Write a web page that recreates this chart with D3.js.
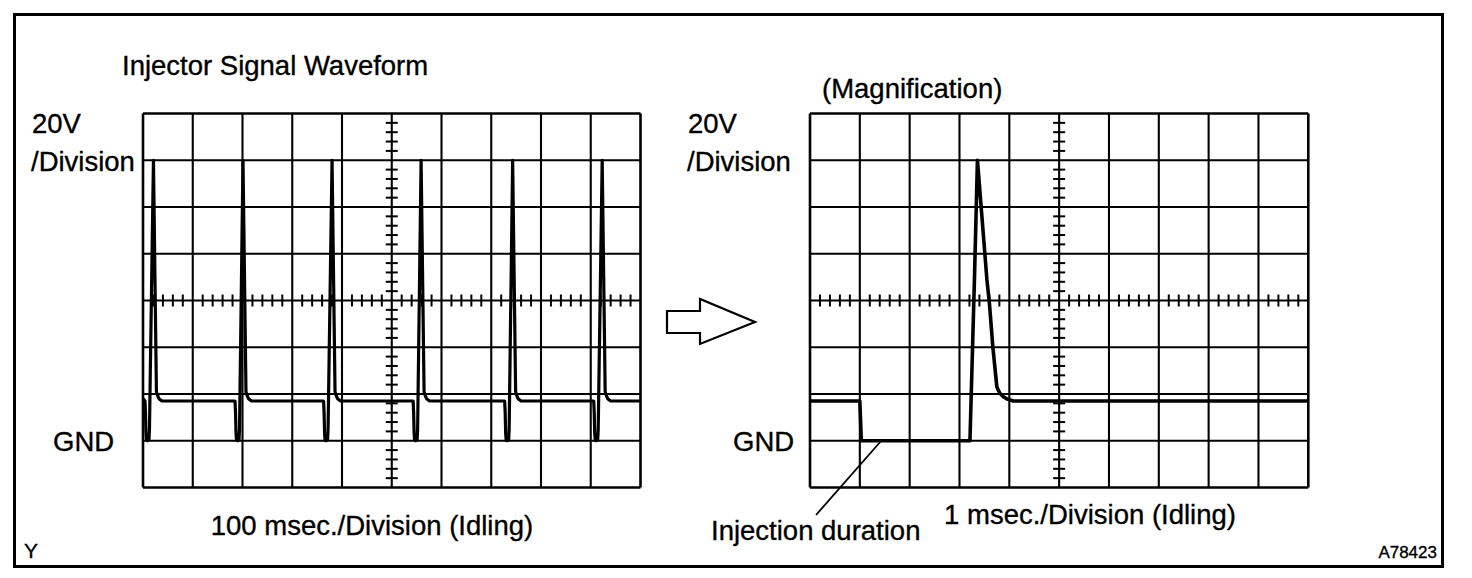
<!DOCTYPE html>
<html>
<head>
<meta charset="utf-8">
<script src="https://cdn.jsdelivr.net/npm/d3@7"></script>
<style>
  body { margin: 0; background: #fff; }
  svg { display: block; }
  text { font-family: "Liberation Sans", Arial, sans-serif; fill: #000; stroke: #000; stroke-width: 0.35; }
</style>
</head>
<body>
<div class="chart"></div>
<script>
// Data: [time, volts].
// Left: 100 msec per division, right: 1 msec per division, 20 V per division.
let leftTrace = [
    [0, 18], [2, 17.5],
    [4, 17], [5, 12], [6, 3], [7, 0.3], [9, 0], [12, 0.5], [13, 5], [21, 120], [27, 21], [29, 19.5], [32, 18], [38, 17],
    [185, 17], [186, 12], [187, 3], [188, 0.3], [190, 0], [193, 0.5], [194, 5], [201, 120], [207, 21], [209, 19.5], [212, 18], [218, 17],
    [363, 17], [364, 12], [365, 3], [366, 0.3], [368, 0], [371, 0.5], [372, 5], [380, 120], [386, 21], [388, 19.5], [391, 18], [397, 17],
    [543, 17], [544, 12], [545, 3], [546, 0.3], [548, 0], [551, 0.5], [552, 5], [559, 120], [565, 21], [567, 19.5], [570, 18], [576, 17],
    [727, 17], [728, 12], [729, 3], [730, 0.3], [732, 0], [735, 0.5], [736, 5], [743, 120], [749, 21], [751, 19.5], [754, 18], [760, 17],
    [906, 17], [907, 12], [908, 3], [909, 0.3], [911, 0], [914, 0.5], [915, 5], [923, 120], [929, 21], [931, 19.5], [934, 18], [940, 17],
    [1000, 17]
];

let rightTrace = [
    [0, 17], [1.0, 17], [1.03, 0], [3.21, 0], [3.30, 69], [3.36, 120],
    [3.55, 69], [3.60, 59], [3.67, 40], [3.75, 23], [3.81, 20.3], [3.88, 18.8],
    [3.96, 17.8], [4.08, 17], [10, 17]
];

let leftTimeDomain = [0, 1000],
    rightTimeDomain = [0, 10],
    voltDomain = [-20, 140];

let voltLabels = ['20V', '/Division'],
    gndLabel = 'GND',
    titles = ['Injector Signal Waveform', '(Magnification)'],
    timeLabels = ['100 msec./Division (Idling)', '1 msec./Division (Idling)'],
    noteLabel = 'Injection duration',
    cornerLabels = ['Y', 'A78423'];

// Build constants.
let width = 1472,
    height = 578,
    font = 27.5;

let svg = d3.select('.chart')
    .append('svg')
        .attr('width', width)
        .attr('height', height);

// Outer frame.
svg.append('rect')
    .attr('x', 14.5).attr('y', 14.5)
    .attr('width', 1428).attr('height', 552)
    .attr('fill', 'none')
    .attr('stroke', '#000')
    .attr('stroke-width', 3);

let yScale = d3.scaleLinear().domain(voltDomain).range([487.5, 113.5]);

// Draw one scope screen.
function panel(xScale, trace, traceWidth) {
    let g = svg.append('g');
    let [x0, x1] = xScale.range();
    let [t0, t1] = xScale.domain();
    let step = (t1 - t0) / 10;
    let xMid = (t0 + t1) / 2, yMid = 60;

    // Grid.
    g.selectAll('.vgrid')
        .data(d3.range(0, 11).map(i => t0 + i * step))
        .join('line')
            .attr('x1', d => xScale(d)).attr('x2', d => xScale(d))
            .attr('y1', yScale(140)).attr('y2', yScale(-20))
            .attr('stroke', '#000')
            .attr('stroke-width', (d, i) => (i === 0 || i === 10) ? 2.6 : 2.1);

    g.selectAll('.hgrid')
        .data(d3.range(-20, 141, 20))
        .join('line')
            .attr('x1', x0).attr('x2', x1)
            .attr('y1', d => yScale(d)).attr('y2', d => yScale(d))
            .attr('stroke', '#000')
            .attr('stroke-width', d => (d === -20 || d === 140) ? 2.6 : 2.1);

    // Minor ticks on the centre lines.
    let xMinor = d3.range(0, 51).map(i => t0 + i * step / 5).filter((d, i) => i % 5 !== 0);
    g.selectAll('.xminor')
        .data(xMinor)
        .join('line')
            .attr('x1', d => xScale(d)).attr('x2', d => xScale(d))
            .attr('y1', yScale(yMid) - 6).attr('y2', yScale(yMid) + 6)
            .attr('stroke', '#000')
            .attr('stroke-width', 2);

    let yMinor = d3.range(0, 41).map(i => -20 + i * 4).filter((d, i) => i % 5 !== 0);
    g.selectAll('.yminor')
        .data(yMinor)
        .join('line')
            .attr('x1', xScale(xMid) - 6).attr('x2', xScale(xMid) + 6)
            .attr('y1', d => yScale(d)).attr('y2', d => yScale(d))
            .attr('stroke', '#000')
            .attr('stroke-width', 2);

    // Trace.
    let line = d3.line()
        .x(d => xScale(d[0]))
        .y(d => yScale(d[1]));

    g.append('path')
        .datum(trace)
        .attr('d', line)
        .attr('fill', 'none')
        .attr('stroke', '#000')
        .attr('stroke-width', traceWidth)
        .attr('stroke-linejoin', 'round');

    return g;
}

let xLeft = d3.scaleLinear().domain(leftTimeDomain).range([143, 640.5]);
let xRight = d3.scaleLinear().domain(rightTimeDomain).range([810, 1308.3]);

panel(xLeft, leftTrace, 3.2);
panel(xRight, rightTrace, 3.6);

// Labels.
function label(txt, x, y, size, anchor) {
    svg.append('text')
        .attr('x', x).attr('y', y)
        .attr('font-size', size)
        .attr('text-anchor', anchor || 'start')
        .text(txt);
}

label(titles[0], 122, 75, font);
label(titles[1], 822, 98, font);

label(voltLabels[0], 32, 133, font);
label(voltLabels[1], 31, 171, font);
label(gndLabel, 53, 451, font);

label(voltLabels[0], 688, 133, font);
label(voltLabels[1], 687, 171, font);
label(gndLabel, 733, 451, font);

label(timeLabels[0], 372, 535, font, 'middle');
label(timeLabels[1], 1090, 524, font, 'middle');
label(noteLabel, 711, 540, font);

label(cornerLabels[0], 24, 558, 21);
label(cornerLabels[1], 1437, 558, 17, 'end');

// Leader line for injection duration.
svg.append('line')
    .attr('x1', xRight(1.43)).attr('y1', yScale(0))
    .attr('x2', 816).attr('y2', 515)
    .attr('stroke', '#000')
    .attr('stroke-width', 1.8);

// Hollow arrow between the screens.
svg.append('path')
    .attr('d', 'M667,311 L700,311 L700,299 L755,322 L700,344 L700,333 L667,333 Z')
    .attr('fill', '#fff')
    .attr('stroke', '#000')
    .attr('stroke-width', 2.2)
    .attr('stroke-linejoin', 'miter');
</script>
</body>
</html>
